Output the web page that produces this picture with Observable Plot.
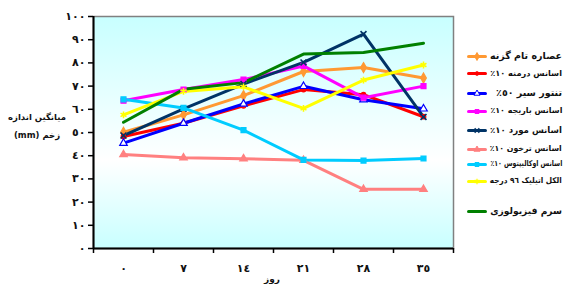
<!DOCTYPE html>
<html><head><meta charset="utf-8">
<script src="https://cdn.jsdelivr.net/npm/d3@7"></script>
<script src="https://cdn.jsdelivr.net/npm/@observablehq/plot@0.6"></script>
<style>
body{margin:0;background:#fff;}
#wrap{position:relative;width:564px;height:284px;overflow:hidden;font-family:"DejaVu Sans",sans-serif;}
#wrap > svg{position:absolute;left:0;top:0;}
.lgtxt{position:absolute;right:2px;height:16px;line-height:16px;direction:rtl;font-size:9.5px;font-weight:bold;color:#111;white-space:nowrap;transform-origin:100% 50%;}
.ylab{position:absolute;left:0;width:74px;text-align:center;font-size:8.5px;font-weight:bold;direction:rtl;color:#111;}
.xlab{position:absolute;left:264px;top:274px;font-size:9px;font-weight:bold;color:#111;}
</style></head><body><div id="wrap"></div>
<script>
// ---- data ----
const days = [0, 7, 14, 21, 28, 35];
const dayLabels = ["٠", "٧", "١٤", "٢١", "٢٨", "٣٥"];
const yTicks = [0, 10, 20, 30, 40, 50, 60, 70, 80, 90, 100];
const yTickLabels = ["٠", "١٠", "٢٠", "٣٠", "٤٠", "٥٠", "٦٠", "٧٠", "٨٠", "٩٠", "١٠٠"];
const seriesNames = [
  "عصاره تام گزنه",
  "اسانس درمنه ١٠٪",
  "تنتور سیر ٥٠٪",
  "اسانس باریجه ١٠٪",
  "اسانس مورد ١٠٪",
  "اسانس ترخون ١٠٪",
  "اسانس اوکالیپتوس ١٠٪",
  "الکل اتیلیک ٩٦ درجه",
  "سرم فیزیولوزی"
];
const nettle     = [50.1, 57.6, 65.9, 76.3, 78.0, 73.5];
const artemisia  = [48.3, 54.0, 61.5, 68.5, 66.3, 56.8];
const garlic     = [45.4, 54.0, 62.3, 69.9, 64.1, 60.2];
const galbanum   = [63.7, 68.5, 72.8, 78.7, 65.0, 70.0];
const myrtle     = [48.7, 60.2, 70.9, 80.2, 92.4, 56.7];
const tarragon   = [40.5, 39.1, 38.7, 38.0, 25.5, 25.5];
const eucalyptus = [64.3, 60.6, 51.0, 38.2, 37.9, 38.8];
const ethanol    = [57.6, 67.7, 69.7, 60.4, 72.6, 79.1];
const saline     = [54.4, 68.6, 71.5, 83.8, 84.5, 88.5];
const seriesValues = [nettle, artemisia, garlic, galbanum, myrtle, tarragon, eucalyptus, ethanol, saline];

// ---- styles ----
const styles = [
  {color: "#ff9933", symbol: "diamond", fill: "#ff9933", r: 3},
  {color: "#ff0000", symbol: "circle", fill: "#ff0000", r: 2.3},
  {color: "#0000ff", symbol: "triangle", fill: "#ffffff", r: 2.8},
  {color: "#ff00ff", symbol: "square", fill: "#ff00ff", r: 2.8},
  {color: "#003366", symbol: "times", fill: "none", r: 2.8},
  {color: "#ff8080", symbol: "triangle", fill: "#ff8080", r: 2.8},
  {color: "#00ccff", symbol: "square", fill: "#00ccff", r: 2.8},
  {color: "#ffff00", symbol: "asterisk", fill: "none", r: 3.2},
  {color: "#008000", symbol: null, fill: "none", r: 0}
];
const legendTops = [48, 65, 85, 103, 122, 141, 156, 173, 203];

const rows = seriesNames.flatMap((name, s) =>
  days.map((d, i) => ({day: d, value: seriesValues[s][i], series: name, s})));

const half = (days[1] - days[0]) / 2;
const bounds = days.map(d => d - half).concat(days[days.length - 1] + half);

const marks = [
  Plot.frame({fill: "url(#bg)", stroke: "#808080", strokeWidth: 1.5}),
  Plot.line(rows, {x: "day", y: "value", z: "series", stroke: "series", strokeWidth: 3}),
];
styles.forEach((st, s) => {
  if (!st.symbol) return;
  const data = rows.filter(r => r.s === s);
  marks.push(Plot.dot(data, {x: "day", y: "value", symbol: () => st.symbol, r: st.r,
    fill: st.fill, stroke: st.color, strokeWidth: st.fill === "none" ? 1.6 : 1.2}));
});
marks.push(
  Plot.ruleY([0], {stroke: "#000", strokeWidth: 2}),
  Plot.ruleX([bounds[0]], {stroke: "#000", strokeWidth: 2}),
  Plot.axisY({ticks: yTicks, tickFormat: d => yTickLabels[yTicks.indexOf(d)], tickSize: 5, tickPadding: 3,
    fontWeight: "bold", fontSize: 11, label: null, stroke: "#000", strokeWidth: 1.5}),
  Plot.axisX({ticks: days, tickFormat: d => dayLabels[days.indexOf(d)], tickSize: 0, tickPadding: 16,
    fontWeight: "bold", fontSize: 11, label: null}),
  Plot.axisX({ticks: bounds, tickFormat: () => "", tickSize: 5, label: null, stroke: "#000", strokeWidth: 1.5})
);

const chart = Plot.plot({
  width: 564, height: 284,
  marginLeft: 93, marginRight: 111, marginTop: 16, marginBottom: 36,
  style: {fontFamily: "DejaVu Sans, sans-serif", color: "#111", background: "transparent"},
  x: {domain: [bounds[0], bounds[bounds.length - 1]]},
  y: {domain: [0, 100]},
  color: {domain: seriesNames, range: styles.map(s => s.color)},
  symbol: {type: "identity"},
  marks
});

const defs = d3.select(chart).insert("defs", ":first-child");
const grad = defs.append("linearGradient").attr("id", "bg").attr("x1", 0).attr("y1", 0).attr("x2", 0).attr("y2", 1);
grad.append("stop").attr("offset", "0%").attr("stop-color", "#c8ffff");
grad.append("stop").attr("offset", "62%").attr("stop-color", "#ffffff");
grad.append("stop").attr("offset", "100%").attr("stop-color", "#c8ffff");

const wrap = document.getElementById("wrap");
wrap.appendChild(chart);

// y label
[["میانگین اندازه", 112], ["زخم (mm)", 130]].forEach(([t, top]) => {
  const d = document.createElement("div");
  d.className = "ylab"; d.style.top = top + "px"; d.textContent = t;
  wrap.appendChild(d);
});
const xl = document.createElement("div");
xl.className = "xlab"; xl.textContent = "روز"; wrap.appendChild(xl);

// legend
const avail = 72;
seriesNames.forEach((name, s) => {
  const st = styles[s];
  const sym = Plot.plot({
    width: 24, height: 16, margin: 0,
    x: {domain: [0, 1], range: [3, 20]}, y: {domain: [0, 1], range: [8, 8]},
    axis: null, style: {background: "transparent", overflow: "visible"},
    marks: [
      Plot.line([{x: 0, y: 0}, {x: 1, y: 0}], {x: "x", y: "y", stroke: st.color, strokeWidth: 3}),
      st.symbol ? Plot.dot([{x: 0.5, y: 0}], {x: "x", y: "y", symbol: () => st.symbol, r: st.r * 0.8,
        fill: st.fill, stroke: st.color, strokeWidth: st.fill === "none" ? 1.3 : 1}) : null
    ]
  });
  sym.style.position = "absolute"; sym.style.left = "465px"; sym.style.top = legendTops[s] + "px";
  wrap.appendChild(sym);
  const sp = document.createElement("div");
  sp.className = "lgtxt"; sp.style.top = legendTops[s] + "px"; sp.textContent = name;
  wrap.appendChild(sp);
  let w = sp.getBoundingClientRect().width;
  if (w > avail) {
    const fs = Math.max(8, 9.5 * avail / w);
    sp.style.fontSize = fs + "px";
    w = sp.getBoundingClientRect().width;
    if (w > avail) sp.style.transform = `scaleX(${avail / w})`;
  }
});
</script></body></html>
